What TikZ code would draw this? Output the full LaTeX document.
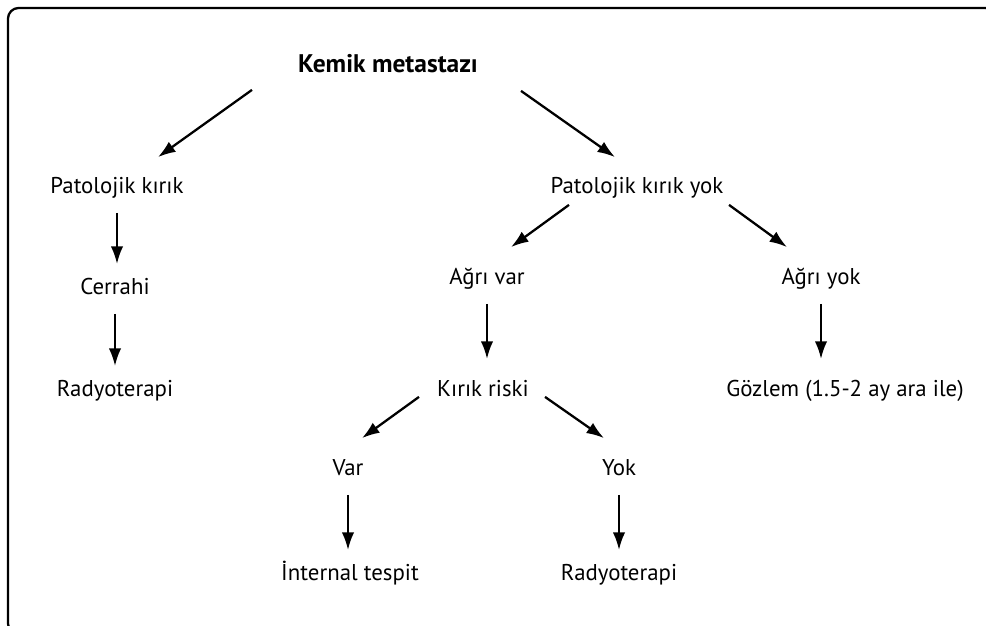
\documentclass[tikz,border=0pt]{standalone}
\usepackage{fontspec}
\setmainfont{PT Sans}
\usetikzlibrary{arrows.meta, positioning}

\begin{document}
\begin{tikzpicture}[
      x = 0.02cm, y = -0.02cm,
      >=Latex,
      font = \fontsize{13}{15}\selectfont,
      step label/.style={
        inner sep = 0pt,
        text height = 9pt,
        text depth = 3pt,
      },
      flow arrow/.style={
        -{Latex[length=10pt, width=7pt]},
        line width = 1.3pt,
        shorten < = 8pt,
        shorten > = 8pt,
      },
      frame/.style={
        draw,
        line width = 1.3pt,
        rounded corners = 6pt,
      },
    ]
    \useasboundingbox (0,0) rectangle (986,625);
    \draw[frame] (8,8) rectangle (996,634);

    % top of the tree
    \node[step label, font = \fontsize{14.5}{16}\selectfont\bfseries] (km)
      at (388,67) {Kemik metastazı};
    \node[step label] (pk) at (117,188) {Patolojik kırık};
    \node[step label] (pky) at (637,188) {Patolojik kırık yok};

    % left branch
    \node[step label] (cer) at (115,289) {Cerrahi};
    \node[step label] (rt-left) at (115,391) {Radyoterapi};

    % right branch
    \node[step label] (av) at (487,279) {Ağrı var};
    \node[step label] (ay) at (821,279) {Ağrı yok};
    \node[step label] (kr) at (483,391) {Kırık riski};
    \node[step label] (gz) at (845,391) {Gözlem (1.5-2 ay ara ile)};
    \node[step label] (var) at (348,470) {Var};
    \node[step label] (yok) at (619,470) {Yok};
    \node[step label] (it) at (350,575) {İnternal tespit};
    \node[step label] (rt-right) at (619,575) {Radyoterapi};

    % diagonal arrows
    \draw[flow arrow, shorten < = 0pt, shorten > = 0pt]
      ([shift={(-136,12)}]km.south) -- ([shift={(41,-20)}]pk.north);
    \draw[flow arrow, shorten < = 0pt, shorten > = 0pt]
      ([shift={(133,13)}]km.south) -- ([shift={(-22,-20)}]pky.north);
    \draw[flow arrow, shorten < = 0pt, shorten > = 0pt]
      ([shift={(-68,6)}]pky.south) -- ([shift={(24,-21)}]av.north);
    \draw[flow arrow, shorten < = 0pt, shorten > = 0pt]
      ([shift={(92,6)}]pky.south) -- ([shift={(-34,-21)}]ay.north);
    \draw[flow arrow, shorten < = 0pt, shorten > = 0pt]
      ([shift={(-64,-5)}]kr.south) -- ([shift={(14,-21)}]var.north);
    \draw[flow arrow, shorten < = 0pt, shorten > = 0pt]
      ([shift={(62,-5)}]kr.south) -- ([shift={(-15,-21)}]yok.north);

    % vertical arrows
    \draw[flow arrow] (pk.south) -- (pk.south |- cer.north);
    \draw[flow arrow] (cer.south) -- (cer.south |- rt-left.north);
    \draw[flow arrow, shorten > = 12pt] (av.south) -- (av.south |- kr.north);
    \draw[flow arrow, shorten > = 12pt] (ay.south) -- (ay.south |- gz.north);
    \draw[flow arrow] (var.south) -- (var.south |- it.north);
    \draw[flow arrow] (yok.south) -- (yok.south |- rt-right.north);
  \end{tikzpicture}
\end{document}
